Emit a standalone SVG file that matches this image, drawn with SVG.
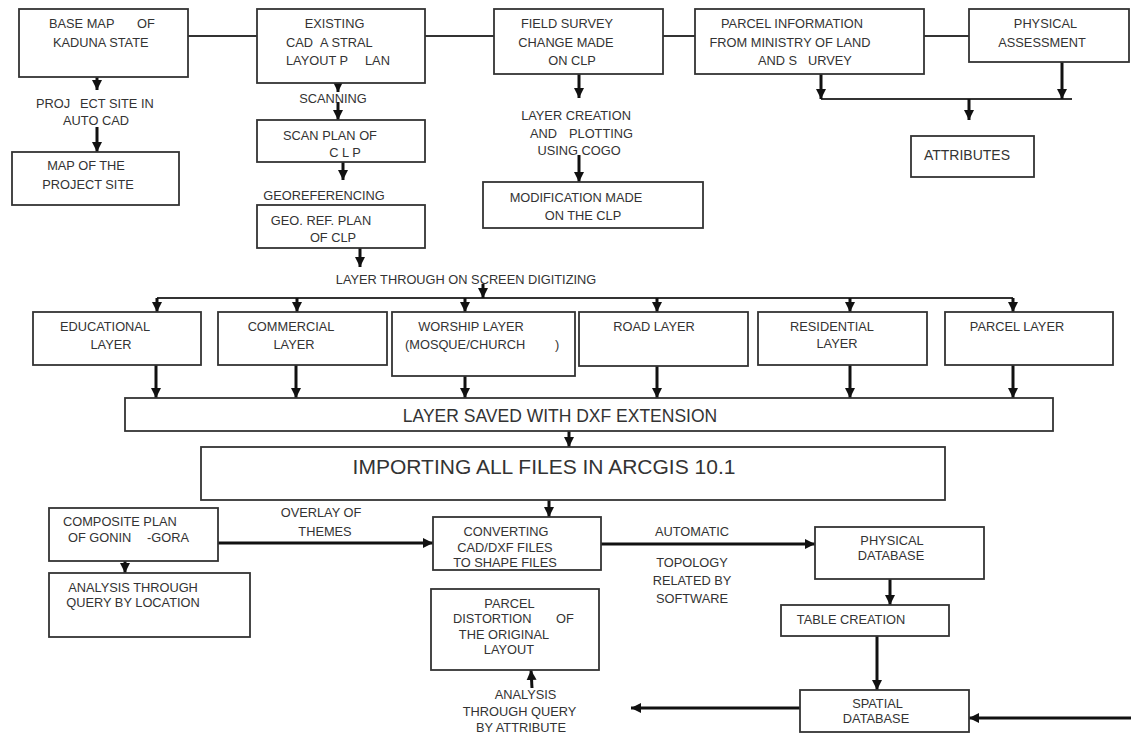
<svg xmlns="http://www.w3.org/2000/svg" width="1131" height="734" viewBox="0 0 1131 734">
<style>
.b{fill:#fff;stroke:#333;stroke-width:1.8}
.t{font-family:"Liberation Sans",Arial,sans-serif;font-size:12.8px;fill:#333}
.m{text-anchor:middle}
.ln{stroke:#333;stroke-width:1.8;fill:none}
.ar{stroke:#111;stroke-width:3;fill:none;marker-end:url(#ah)}
</style>
<defs>
<marker id="ah" viewBox="0 0 10 10" refX="10" refY="5" markerWidth="10" markerHeight="10" markerUnits="userSpaceOnUse" orient="auto"><path d="M0,0 L10,5 L0,10 z" fill="#111"/></marker>
</defs>
<rect width="1131" height="734" fill="#fff"/>
<g id="connectors">
<path class="ln" d="M188,36H257M425,36H494M663,36H695M924,36H969M821,99H1072M157,298H1013"/>
<path class="ar" d="M97,77V90"/><path class="ar" d="M97,127V152"/>
<path class="ar" d="M338,83V92"/><path class="ar" d="M338,102V120"/><path class="ar" d="M343,162V180"/>
<path class="ar" d="M579,74V98"/><path class="ar" d="M579,155V182"/>
<path class="ar" d="M821,74V99"/><path class="ar" d="M1062,62V99"/><path class="ar" d="M969,99V120"/>
<path class="ar" d="M360,248V267"/><path class="ar" d="M483,284V298"/>
<path class="ar" d="M157,298V312"/><path class="ar" d="M297,298V312"/><path class="ar" d="M465,298V312"/><path class="ar" d="M657,298V312"/><path class="ar" d="M850,298V312"/><path class="ar" d="M1013,298V312"/>
<path class="ar" d="M156,365V398"/><path class="ar" d="M296,365V398"/><path class="ar" d="M465,376V398"/><path class="ar" d="M657,366V398"/><path class="ar" d="M850,365V398"/><path class="ar" d="M1013,365V398"/>
<path class="ar" d="M569,431V447"/><path class="ar" d="M549,500V517"/>
<path class="ar" d="M218,543H433"/><path class="ar" d="M125,561V573"/>
<path class="ar" d="M601,544H815"/><path class="ar" d="M532,688L531,670"/>
<path class="ar" d="M890,579V605"/><path class="ar" d="M877,636V690"/>
<path class="ar" d="M800,708H631"/><path class="ar" d="M1131,718H969"/>
</g>
<g id="basemap"><rect class="b" x="19" y="9" width="169" height="68"/><text class="t" x="49" y="27.6">BASE MAP</text><text class="t" x="137" y="27.6">OF</text><text class="t" x="53" y="46.6">KADUNA STATE</text></g>
<g id="projectsite-label"><text class="t" x="36" y="107.6">PROJ</text><text class="t" x="80" y="107.6">ECT SITE IN</text><text class="t m" x="96" y="124.6">AUTO CAD</text></g>
<g id="mapproject"><rect class="b" x="12" y="152" width="167" height="53"/><text class="t m" x="86" y="169.6">MAP OF THE</text><text class="t m" x="88" y="188.6">PROJECT SITE</text></g>
<g id="existing"><rect class="b" x="257" y="9" width="168" height="74"/><text class="t m" x="334.5" y="27.6">EXISTING</text><text class="t" x="286" y="46.6">CAD</text><text class="t" x="320" y="46.6">A STRAL</text><text class="t" x="286" y="64.6">LAYOUT P</text><text class="t" x="365" y="64.6">LAN</text></g>
<g id="scanning-label"><text class="t m" x="333" y="102.6">SCANNING</text></g>
<g id="scanplan"><rect class="b" x="257" y="120" width="168" height="42"/><text class="t m" x="330" y="139.6">SCAN PLAN OF</text><text class="t m" x="345" y="156.6">C L P</text></g>
<g id="georef-label"><text class="t m" x="324" y="199.6">GEOREFERENCING</text></g>
<g id="georef"><rect class="b" x="257" y="205" width="168" height="43"/><text class="t m" x="321" y="224.6">GEO. REF. PLAN</text><text class="t m" x="333" y="241.6">OF CLP</text></g>
<g id="field"><rect class="b" x="494" y="9" width="169" height="65"/><text class="t m" x="567" y="27.6">FIELD SURVEY</text><text class="t m" x="566" y="46.6">CHANGE MADE</text><text class="t m" x="572" y="64.6">ON CLP</text></g>
<g id="layercreation-label"><text class="t m" x="576" y="119.6">LAYER CREATION</text><text class="t" x="530" y="137.6">AND</text><text class="t" x="569" y="137.6">PLOTTING</text><text class="t m" x="579" y="154.6">USING COGO</text></g>
<g id="modification"><rect class="b" x="483" y="182" width="220" height="46"/><text class="t m" x="576" y="201.6">MODIFICATION MADE</text><text class="t m" x="583" y="219.6">ON THE CLP</text></g>
<g id="parcelinfo"><rect class="b" x="695" y="9" width="229" height="65"/><text class="t m" x="792" y="27.6">PARCEL INFORMATION</text><text class="t m" x="790" y="46.6">FROM MINISTRY OF LAND</text><text class="t" x="758" y="64.6">AND S</text><text class="t" x="808" y="64.6">URVEY</text></g>
<g id="physassess"><rect class="b" x="969" y="9" width="160" height="53"/><text class="t m" x="1045.5" y="27.6">PHYSICAL</text><text class="t m" x="1042" y="46.6">ASSESSMENT</text></g>
<g id="attributes"><rect class="b" x="911" y="136" width="123" height="41"/><text class="t m" x="967" y="160" style="font-size:14px">ATTRIBUTES</text></g>
<g id="digitizing-label"><text class="t m" x="466" y="283.6">LAYER THROUGH ON SCREEN DIGITIZING</text></g>
<g id="educational"><rect class="b" x="33" y="312" width="168" height="53"/><text class="t m" x="105" y="330.6">EDUCATIONAL</text><text class="t m" x="111" y="348.6">LAYER</text></g>
<g id="commercial"><rect class="b" x="218" y="312" width="169" height="53"/><text class="t m" x="291" y="330.6">COMMERCIAL</text><text class="t m" x="294" y="348.6">LAYER</text></g>
<g id="worship"><rect class="b" x="392" y="312" width="183" height="64"/><text class="t m" x="471" y="330.6">WORSHIP LAYER</text><text class="t" x="405" y="348.6">(MOSQUE/CHURCH</text><text class="t" x="555" y="348.6">)</text></g>
<g id="road"><rect class="b" x="579" y="312" width="169" height="54"/><text class="t m" x="654" y="330.6">ROAD LAYER</text></g>
<g id="residential"><rect class="b" x="758" y="312" width="169" height="53"/><text class="t m" x="832" y="330.6">RESIDENTIAL</text><text class="t m" x="837" y="347.6">LAYER</text></g>
<g id="parcellayer"><rect class="b" x="945" y="312" width="168" height="53"/><text class="t m" x="1017" y="330.6">PARCEL LAYER</text></g>
<g id="dxf"><rect class="b" x="125" y="398" width="928" height="33"/><text class="t m" x="560" y="422.3" style="font-size:17.5px">LAYER SAVED WITH DXF EXTENSION</text></g>
<g id="importing"><rect class="b" x="201" y="447" width="744" height="53"/><text class="t m" x="544" y="473.5" style="font-size:21px">IMPORTING ALL FILES IN ARCGIS 10.1</text></g>
<g id="composite"><rect class="b" x="49" y="508" width="169" height="53"/><text class="t" x="63" y="525.6">COMPOSITE PLAN</text><text class="t" x="68" y="541.6">OF GONIN</text><text class="t" x="147" y="541.6">-GORA</text></g>
<g id="overlay-label"><text class="t m" x="321" y="516.6">OVERLAY OF</text><text class="t m" x="325" y="535.6">THEMES</text></g>
<g id="converting"><rect class="b" x="433" y="517" width="168" height="53"/><text class="t m" x="506" y="535.6">CONVERTING</text><text class="t m" x="505" y="551.6">CAD/DXF FILES</text><text class="t m" x="505" y="566.6">TO SHAPE FILES</text></g>
<g id="analysisloc"><rect class="b" x="49" y="573" width="201" height="64"/><text class="t m" x="133" y="591.6">ANALYSIS THROUGH</text><text class="t m" x="133" y="606.6">QUERY BY LOCATION</text></g>
<g id="distortion"><rect class="b" x="431" y="589" width="168" height="81"/><text class="t m" x="509.5" y="607.6">PARCEL</text><text class="t" x="453" y="622.6">DISTORTION</text><text class="t" x="556" y="622.6">OF</text><text class="t m" x="504" y="638.6">THE ORIGINAL</text><text class="t m" x="509" y="653.6">LAYOUT</text></g>
<g id="analysisattr-label"><text class="t m" x="525.5" y="698.6">ANALYSIS</text><text class="t m" x="519.5" y="715.6">THROUGH QUERY</text><text class="t m" x="521" y="731.6">BY ATTRIBUTE</text></g>
<g id="topology-label"><text class="t m" x="692" y="535.6">AUTOMATIC</text><text class="t m" x="692" y="566.6">TOPOLOGY</text><text class="t m" x="692" y="584.6">RELATED BY</text><text class="t m" x="692" y="602.6">SOFTWARE</text></g>
<g id="physdb"><rect class="b" x="815" y="527" width="169" height="52"/><text class="t m" x="892" y="544.6">PHYSICAL</text><text class="t m" x="891" y="559.6">DATABASE</text></g>
<g id="table"><rect class="b" x="781" y="605" width="168" height="31"/><text class="t m" x="851" y="623.6">TABLE CREATION</text></g>
<g id="spatial"><rect class="b" x="800" y="690" width="169" height="42"/><text class="t m" x="877.5" y="707.6">SPATIAL</text><text class="t m" x="876" y="722.6">DATABASE</text></g>
</svg>
